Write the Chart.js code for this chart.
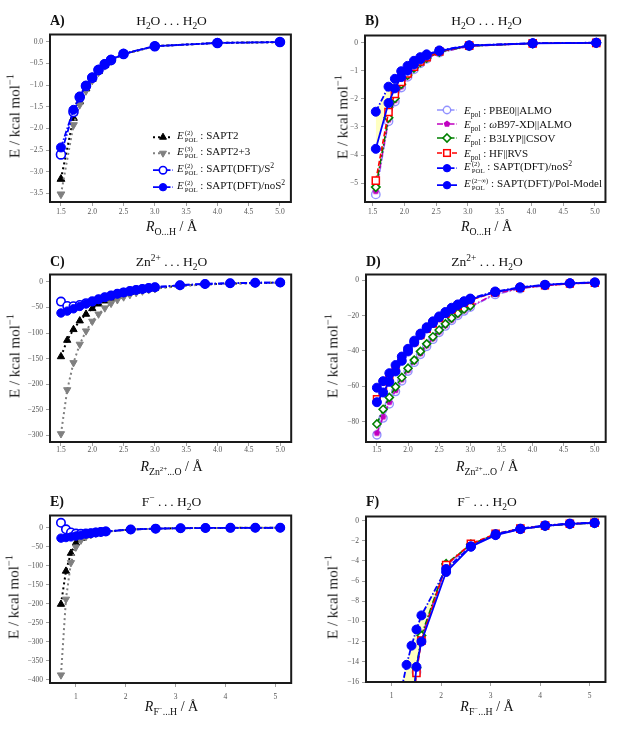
<!DOCTYPE html>
<html>
<head>
<meta charset="utf-8">
<script src="https://cdn.jsdelivr.net/npm/chart.js@4.4.1/dist/chart.umd.min.js"></script>
<style>
body { margin: 0; background: #fff; }
#page { position: relative; width: 625px; height: 731px; overflow: hidden; font-family: "Liberation Serif", serif; color: #111; }
canvas { position: absolute; }
.t { position: absolute; white-space: nowrap; line-height: 1; }
.c { transform: translate(-50%, -50%); font-size: 13.5px; }
.xl { transform: translate(-50%, -50%); font-size: 14px; }
.tag { transform: translateY(-50%); font-size: 14px; font-weight: bold; }
.yl { transform: translate(-50%, -50%) rotate(-90deg); font-size: 15px; color: #222; }
sub, sup { font-size: 70%; line-height: 0; }
.ss { display: inline-flex; flex-direction: column; vertical-align: 4px; font-size: 6.8px; line-height: 1.0; margin-left: 1px; }
.lrow { position: absolute; display: flex; align-items: center; transform: translateY(-50%); font-size: 11px; white-space: nowrap; line-height: 1; }
.lrow svg { flex: none; }
</style>
</head>
<body>
<div id="page"></div>
<script>
'use strict'

// values (kcal/mol)
const xA = [1.5, 1.7, 1.8, 1.9, 2.0, 2.1, 2.2, 2.3, 2.5, 3.0, 4.0, 5.0];
const aSapt2 = [-3.17, -1.76, -1.38, -1.08, -0.86, -0.68, -0.54, -0.43, -0.28, -0.10, -0.025, -0.005];
const aSapt23 = [-3.52, -1.92, -1.45, -1.13, -0.89, -0.70, -0.55, -0.44, -0.29, -0.10, -0.025, -0.005];
const aS2 = [-2.60, -1.62, -1.28, -1.02, -0.83, -0.65, -0.52, -0.42, -0.28, -0.10, -0.025, -0.005];
const aNoS2 = [-2.44, -1.57, -1.26, -1.01, -0.82, -0.64, -0.51, -0.41, -0.27, -0.10, -0.025, -0.005];

const xB = [1.55, 1.75, 1.85, 1.95, 2.05, 2.15, 2.25, 2.35, 2.55, 3.02, 4.02, 5.02];
const bPbe0 = [-5.40, -2.80, -2.10, -1.60, -1.22, -0.95, -0.74, -0.58, -0.36, -0.13, -0.03, -0.01];
const bWb97 = [-5.29, -2.75, -2.06, -1.57, -1.20, -0.93, -0.73, -0.57, -0.35, -0.13, -0.03, -0.01];
const bB3lyp = [-5.14, -2.67, -1.98, -1.48, -1.15, -0.90, -0.70, -0.55, -0.33, -0.12, -0.03, -0.01];
const bHf = [-4.91, -2.47, -1.83, -1.40, -1.10, -0.86, -0.67, -0.52, -0.32, -0.11, -0.03, -0.01];
const bNoS2 = [-2.46, -1.57, -1.29, -1.02, -0.83, -0.65, -0.52, -0.42, -0.28, -0.10, -0.025, -0.005];
const bPol = [-3.78, -2.15, -1.63, -1.23, -1.00, -0.78, -0.60, -0.46, -0.30, -0.11, -0.03, -0.01];

const xC = [1.5, 1.6, 1.7, 1.8, 1.9, 2.0, 2.1, 2.2, 2.3, 2.4, 2.5, 2.6, 2.7, 2.8, 2.9, 3.0, 3.4, 3.8, 4.2, 4.6, 5.0];
const cSapt2 = [-146, -114, -93, -76, -63, -52, -43, -37, -31.5, -27, -23.5, -20.5, -18, -15.8, -14, -12.3, -7.5, -4.8, -3.2, -2.2, -1.6];
const cSapt23 = [-297, -211, -158, -122, -96, -77, -63, -51, -42, -35, -29.5, -25, -21, -18, -15.5, -13.5, -8, -5, -3.3, -2.3, -1.6];
const cS2 = [-38.5, -47, -47.5, -45, -41.5, -38, -34, -30, -26.5, -23.3, -20.5, -18, -15.6, -13.7, -11.9, -10.4, -6.4, -4, -2.6, -1.7, -1.3];
const cNoS2 = [-60.8, -57.1, -52.6, -48, -43.2, -38.8, -34.2, -30.2, -26.6, -23.3, -20.5, -18, -15.6, -13.7, -11.9, -10.4, -6.4, -4, -2.6, -1.7, -1.3];
const dPbe0 = [-87.5, -78, -70, -63, -57, -51.5, -46.5, -42, -37.5, -33.5, -29.6, -26, -22.8, -20, -17.5, -15.3, -8.2, -4.9, -3.1, -2.1, -1.5];
const dWb97 = [-86.5, -77.3, -69, -62.3, -56.3, -51, -46, -41.5, -37, -33, -29.2, -25.7, -22.5, -19.7, -17.2, -15, -7.7, -4.6, -3, -2, -1.4];
const dB3lyp = [-81.3, -73, -66.3, -60.3, -55, -49.8, -45.2, -40.3, -36, -32, -28.2, -24.7, -21.4, -18.7, -16.3, -14.5];
const dHf = [-67.2, -61, -55.5, -50, -44.5, -39.5, -35, -31, -27.5, -24.5, -21.5, -19, -16.7, -14.6, -12.9, -11.3, -6.9, -4.4, -2.9, -2, -1.5];
const dPol = [-69, -63.5, -57.5, -51.6, -45.6, -40.3, -35.2, -31, -27.3, -24.2, -21, -18.7, -16.3, -14.1, -12.5, -10.8, -6.8, -4.2, -2.7, -1.8, -1.3];

const xE = [0.7, 0.8, 0.9, 1.0, 1.1, 1.2, 1.3, 1.4, 1.5, 1.6, 2.1, 2.6, 3.1, 3.6, 4.1, 4.6, 5.1];
const eSapt2 = [-201, -114, -67, -40, -28, -21, -17, -14, -12, -10.5, -4.6, -2.5, -1.4, -0.85, -0.5, -0.33, -0.23];
const eSapt23 = [-387, -188, -92, -51, -33, -24, -18.5, -15, -12.5, -10.8, -4.7, -2.5, -1.4, -0.85, -0.5, -0.33, -0.23];
const eS2 = [12.8, -4.3, -12.5, -15.5, -16, -15.5, -14.3, -12.8, -11.3, -10, -4.6, -2.5, -1.4, -0.82, -0.5, -0.32, -0.23];
const eNoS2 = [-27.5, -26, -24.2, -22, -19.5, -16.7, -14.3, -12.4, -10.8, -9.4, -4.8, -2.55, -1.35, -0.8, -0.48, -0.3, -0.22];

// F: the DFT curves from 1.4 on, the two SAPT(DFT) curves from 1.2 on
const xF = [1.4, 1.5, 1.6, 2.1, 2.6, 3.1, 3.6, 4.1, 4.6, 5.1];
const xF2 = [1.2, 1.3, 1.4, 1.5, 1.6, 2.1, 2.6, 3.1, 3.6, 4.1, 4.6, 5.1];
const fPbe0 = [-19.8, -15.0, -11.8, -4.5, -2.45, -1.42, -0.86, -0.55, -0.36, -0.25];
const fWb97 = [-19.6, -14.8, -11.6, -4.4, -2.4, -1.4, -0.85, -0.54, -0.35, -0.25];
const fB3lyp = [-19.3, -14.6, -11.4, -4.3, -2.35, -1.37, -0.84, -0.54, -0.35, -0.25];
const fHf = [-19.8, -15.1, -11.9, -4.4, -2.3, -1.32, -0.8, -0.5, -0.32, -0.22];
const fNoS2 = [-16.7, -14.3, -12.4, -10.8, -9.4, -4.8, -2.55, -1.35, -0.8, -0.48, -0.3, -0.22];
const fPol = [-33, -26, -19.5, -14.5, -12.0, -5.1, -2.6, -1.45, -0.85, -0.52, -0.33, -0.24];

// tick values
const ticksXR = [1.5, 2.0, 2.5, 3.0, 3.5, 4.0, 4.5, 5.0];
const ticksXF = [1, 2, 3, 4, 5];
const ticksYA = [0, -0.5, -1.0, -1.5, -2.0, -2.5, -3.0, -3.5];
const ticksYB = [0, -1, -2, -3, -4, -5];
const ticksYC = [0, -50, -100, -150, -200, -250, -300];
const ticksYD = [0, -20, -40, -60, -80];
const ticksYE = [0, -50, -100, -150, -200, -250, -300, -350, -400];
const ticksYF = [0, -2, -4, -6, -8, -10, -12, -14, -16];

const minus = s => s.replace('-', '\u2212');
const fmt1 = v => minus(v.toFixed(1));
const fmt0 = v => minus(v.toFixed(0));

function pentagon(r, color) {
	const c = document.createElement('canvas');
	c.width = c.height = 2 * r + 2;
	const g = c.getContext('2d');
	g.beginPath();
	for (let i = 0; i < 5; i++) {
		const a = -Math.PI / 2 + i * 2 * Math.PI / 5;
		g.lineTo(r + 1 + r * Math.cos(a), r + 1 + r * Math.sin(a));
	}
	g.closePath();
	g.fillStyle = color;
	g.fill();
	return c;
}

const blue = '#0000ff';
const dashDot = [6, 2, 1.5, 2];
const dotted = [2, 3];
const styles = {
	sapt2: { color: '#000', lw: 2, dash: dotted, m: 'tri', ps: 'triangle', fill: '#000', pbw: 1 },
	sapt23: { color: '#808080', lw: 2, dash: dotted, m: 'tridown', ps: 'triangle', rot: 180, fill: '#808080', pbw: 1 },
	s2: { color: blue, lw: 1.8, dash: dashDot, m: 'circle', ps: 'circle', fill: '#fff', pbw: 1.6 },
	noS2: { color: blue, lw: 1.8, dash: dashDot, m: 'circle', ps: 'circle', fill: blue, pbw: 1 },
	pol: { color: blue, lw: 1.8, dash: [], m: 'circle', ps: 'circle', fill: blue, pbw: 1 },
	pbe0: { color: 'rgba(110,110,255,0.75)', lw: 1.6, dash: dashDot, m: 'circle', ps: 'circle', fill: '#fff', pbw: 1.4 },
	wb97: { color: '#c000c0', lw: 1.6, dash: dashDot, m: 'pent', ps: pentagon(3.5, '#c000c0'), fill: '#c000c0', pbw: 1 },
	b3lyp: { color: '#008000', lw: 1.6, dash: dashDot, m: 'diamond', ps: 'rectRot', fill: '#fff', pbw: 1.6 },
	hf: { color: '#ff0000', lw: 1.6, dash: [5, 2.5], m: 'square', ps: 'rect', rs: 1.2, fill: '#fff', pbw: 1.5 },
};

function series(xs, ys, key, order, r) {
	const st = styles[key];
	return {
		data: xs.slice(0, ys.length).map((x, i) => ({ x: x, y: ys[i] })),
		order: order,
		borderColor: st.color, borderWidth: st.lw, borderDash: st.dash,
		backgroundColor: st.fill, tension: 0, fill: false,
		pointStyle: st.ps, pointRotation: st.rot || 0, pointRadius: r * (st.rs || 1),
		pointBackgroundColor: st.fill, pointBorderColor: st.color, pointBorderWidth: st.pbw,
	};
}

const yellowFill = { above: 'rgba(255,255,150,0.6)', below: 'rgba(255,255,150,0.6)' };

const page = document.getElementById('page');
function addText(cls, html, x, y) {
	const d = document.createElement('div');
	d.className = 't ' + cls;
	d.innerHTML = html;
	d.style.left = x + 'px';
	d.style.top = y + 'px';
	page.appendChild(d);
}

const frame = {
	id: 'frame',
	afterDatasetsDraw(chart) {
		const { ctx, chartArea: a } = chart;
		ctx.save();
		ctx.strokeStyle = '#1a1a1a';
		ctx.lineWidth = 2;
		ctx.strokeRect(a.left, a.top, a.right - a.left, a.bottom - a.top);
		ctx.restore();
	}
};

function tickFont() { return { family: '"Liberation Serif", serif', size: 7.5 }; }

function buildPanel(p) {
	const [L, T, R, B] = p.box;
	const W = R - L + 48, H = B - T + 29;
	const cv = document.createElement('canvas');
	cv.width = W; cv.height = H;
	cv.style.left = (L - 44) + 'px'; cv.style.top = (T - 3) + 'px';
	cv.style.width = W + 'px'; cv.style.height = H + 'px';
	page.appendChild(cv);

	new Chart(cv, {
		type: 'line',
		data: { datasets: p.sets },
		options: {
			responsive: false, animation: false, events: [],
			layout: { padding: { left: 4, top: 3, right: 4, bottom: 0 } },
			plugins: { legend: { display: false }, tooltip: { enabled: false }, filler: { drawTime: 'beforeDatasetsDraw' } },
			scales: {
				x: {
					type: 'linear', min: p.x[0], max: p.x[1],
					afterFit: s => { s.height = 26; },
					afterBuildTicks: s => { s.ticks = p.xt.map(v => ({ value: v })); },
					ticks: { callback: p.xf, font: tickFont(), color: '#555', padding: p.xpad, maxRotation: 0, autoSkip: false },
					grid: { drawOnChartArea: false, tickLength: 4, color: '#888', lineWidth: 0.8 },
					border: { display: false },
				},
				y: {
					type: 'linear', min: p.y[0], max: p.y[1],
					afterFit: s => { s.width = 40; },
					afterBuildTicks: s => { s.ticks = p.yt.map(v => ({ value: v })); },
					ticks: { callback: p.yf, font: tickFont(), color: '#555', padding: 3, autoSkip: false },
					grid: { drawOnChartArea: false, tickLength: 4, color: '#888', lineWidth: 0.8 },
					border: { display: false },
				},
			},
		},
		plugins: [frame],
	});

	const cx = (L + R) / 2;
	addText('tag', p.tag, L, p.ty);
	addText('c', p.title, cx, p.ty);
	addText('xl', p.xlab, cx, p.xly);
	addText('yl', 'E / kcal mol<sup>\u22121</sup>', p.yl[0], (T + B) / 2);
}

const ttlW = 'H<sub>2</sub>O&nbsp;.&thinsp;.&thinsp;.&nbsp;H<sub>2</sub>O';
const ttlZn = 'Zn<sup>2+</sup>&nbsp;.&thinsp;.&thinsp;.&nbsp;H<sub>2</sub>O';
const ttlF = 'F<sup>\u2212</sup>&nbsp;.&thinsp;.&thinsp;.&nbsp;H<sub>2</sub>O';
const xlOH = '<i>R</i><sub>O...H</sub> / \u00c5';
const xlZn = '<i>R</i><sub>Zn<sup>2+</sup>...O</sub> / \u00c5';
const xlF = '<i>R</i><sub>F<sup>\u2212</sup>...H</sub> / \u00c5';

const panels = [
	{ tag: 'A)', title: ttlW, xlab: xlOH, box: [50, 30, 293, 202], ty: 21, xly: 227, yl: [15],
	  x: [1.325, 5.175], y: [-3.70, 0.17], xt: ticksXR, yt: ticksYA, xf: fmt1, yf: fmt1, xpad: 1.5,
	  sets: [series(xA, aSapt2, 'sapt2', 4, 4.5), series(xA, aSapt23, 'sapt23', 3, 4.5),
	         series(xA, aS2, 's2', 2, 4.5), series(xA, aNoS2, 'noS2', 1, 4.5)] },
	{ tag: 'B)', title: ttlW, xlab: xlOH, box: [365, 31, 608, 202], ty: 21, xly: 227, yl: [343],
	  x: [1.38, 5.165], y: [-5.67, 0.25], xt: ticksXR, yt: ticksYB, xf: fmt1, yf: fmt0, xpad: 1.5,
	  sets: [series(xB, bPbe0, 'pbe0', 6, 4.2), series(xB, bWb97, 'wb97', 5, 4.2), series(xB, bB3lyp, 'b3lyp', 4, 4.2),
	         series(xB, bHf, 'hf', 3, 4.2), Object.assign(series(xB, bNoS2, 'noS2', 2, 4.5), { fill: Object.assign({ target: 5 }, yellowFill) }),
	         series(xB, bPol, 'pol', 1, 4.5)] },
	{ tag: 'C)', title: ttlZn, xlab: xlZn, box: [50, 270, 293, 442], ty: 262, xly: 467, yl: [15],
	  x: [1.325, 5.175], y: [-313, 14.5], xt: ticksXR, yt: ticksYC, xf: fmt1, yf: fmt0, xpad: 0,
	  sets: [series(xC, cSapt2, 'sapt2', 4, 4.2), series(xC, cSapt23, 'sapt23', 3, 4.2),
	         series(xC, cS2, 's2', 2, 4.2), series(xC, cNoS2, 'noS2', 1, 4.2)] },
	{ tag: 'D)', title: ttlZn, xlab: xlZn, box: [366, 270, 608, 442], ty: 262, xly: 467, yl: [333],
	  x: [1.325, 5.175], y: [-91.5, 3.2], xt: ticksXR, yt: ticksYD, xf: fmt1, yf: fmt0, xpad: 0,
	  sets: [series(xC, dPbe0, 'pbe0', 6, 4), series(xC, dWb97, 'wb97', 5, 4), series(xC, dB3lyp, 'b3lyp', 4, 4),
	         series(xC, dHf, 'hf', 3, 4), series(xC, cNoS2, 'noS2', 2, 4.5), series(xC, dPol, 'pol', 1, 4.5)] },
	{ tag: 'E)', title: ttlF, xlab: xlF, box: [50, 511, 293, 683], ty: 502, xly: 707, yl: [14],
	  x: [0.48, 5.32], y: [-408, 32], xt: ticksXF, yt: ticksYE, xf: fmt0, yf: fmt0, xpad: 5.5,
	  sets: [series(xE, eSapt2, 'sapt2', 4, 4.2), series(xE, eSapt23, 'sapt23', 3, 4.2),
	         series(xE, eS2, 's2', 2, 4.2), series(xE, eNoS2, 'noS2', 1, 4.2)] },
	{ tag: 'F)', title: ttlF, xlab: xlF, box: [366, 512, 608, 682], ty: 502, xly: 707, yl: [333],
	  x: [0.48, 5.32], y: [-16, 0.4], xt: ticksXF, yt: ticksYF, xf: fmt0, yf: fmt0, xpad: 6,
	  sets: [series(xF, fPbe0, 'pbe0', 6, 4.2), series(xF, fWb97, 'wb97', 5, 4.2), series(xF, fB3lyp, 'b3lyp', 4, 4.2),
	         series(xF, fHf, 'hf', 3, 4.2), Object.assign(series(xF2, fNoS2, 'noS2', 2, 4.5), { fill: Object.assign({ target: 5 }, yellowFill) }),
	         series(xF2, fPol, 'pol', 1, 4.5)] },
];

panels.forEach(buildPanel);

// legends (HTML so the sub/superscripts can be typeset)
function markerSvg(st, cx, cy) {
	const r = 4, s = 'stroke="' + st.color + '" fill="' + st.fill + '" stroke-width="' + st.pbw + '"';
	switch (st.m) {
		case 'tri': return `<polygon points="${cx},${cy - r} ${cx + r * 0.87},${cy + r / 2} ${cx - r * 0.87},${cy + r / 2}" ${s}/>`;
		case 'tridown': return `<polygon points="${cx},${cy + r} ${cx + r * 0.87},${cy - r / 2} ${cx - r * 0.87},${cy - r / 2}" ${s}/>`;
		case 'diamond': return `<polygon points="${cx},${cy - r} ${cx + r},${cy} ${cx},${cy + r} ${cx - r},${cy}" ${s}/>`;
		case 'square': return `<rect x="${cx - 3.3}" y="${cy - 3.3}" width="6.6" height="6.6" ${s}/>`;
		case 'pent': {
			let pts = '';
			for (let i = 0; i < 5; i++) {
				const a = -Math.PI / 2 + i * 2 * Math.PI / 5;
				pts += (cx + 3.5 * Math.cos(a)).toFixed(2) + ',' + (cy + 3.5 * Math.sin(a)).toFixed(2) + ' ';
			}
			return `<polygon points="${pts}" fill="${st.fill}"/>`;
		}
		default: return `<circle cx="${cx}" cy="${cy}" r="${r - 0.3}" ${s}/>`;
	}
}
function sampleSvg(st, w) {
	const dash = st.dash.length ? ' stroke-dasharray="' + st.dash.join(',') + '"' : '';
	return `<svg width="${w}" height="12" viewBox="0 0 ${w} 12"><line x1="1" y1="6" x2="${w - 1}" y2="6" stroke="${st.color}" stroke-width="${st.lw}"${dash}/>` +
		markerSvg(st, w / 2, 6) + '</svg>';
}
const ePol = sup => '<i>E</i><span class="ss"><span>' + sup + '</span><span>POL</span></span>';
const eLow = '<i>E</i><sub>pol</sub>';

const legendA = [
	{ st: 'sapt2', html: ePol('(2)') + ' : SAPT2' },
	{ st: 'sapt23', html: ePol('(3)') + ' : SAPT2+3' },
	{ st: 's2', html: ePol('(2)') + ' : SAPT(DFT)/S<sup>2</sup>' },
	{ st: 'noS2', html: ePol('(2)') + ' : SAPT(DFT)/noS<sup>2</sup>' },
];
const legendB = [
	{ st: 'pbe0', html: eLow + ' : PBE0||ALMO' },
	{ st: 'wb97', html: eLow + ' : <i>\u03c9</i>B97-XD||ALMO' },
	{ st: 'b3lyp', html: eLow + ' : B3LYP||CSOV' },
	{ st: 'hf', html: eLow + ' : HF||RVS' },
	{ st: 'noS2', html: ePol('(2)') + ' : SAPT(DFT)/noS<sup>2</sup>' },
	{ st: 'pol', html: ePol('(2\u2212\u221e)') + ' : SAPT(DFT)/Pol-Model' },
];

function buildLegend(items, x0, ys, gap) {
	items.forEach((it, i) => {
		const row = document.createElement('div');
		row.className = 'lrow';
		row.style.left = x0 + 'px';
		row.style.top = ys[i] + 'px';
		row.innerHTML = sampleSvg(styles[it.st], 22) + '<span style="margin-left:' + gap + 'px">' + it.html + '</span>';
		page.appendChild(row);
	});
}
buildLegend(legendA, 152, [137, 153, 170, 187], 3);
buildLegend(legendB, 436, [110, 124, 138, 153, 168, 185], 6);
</script>
</body>
</html>
